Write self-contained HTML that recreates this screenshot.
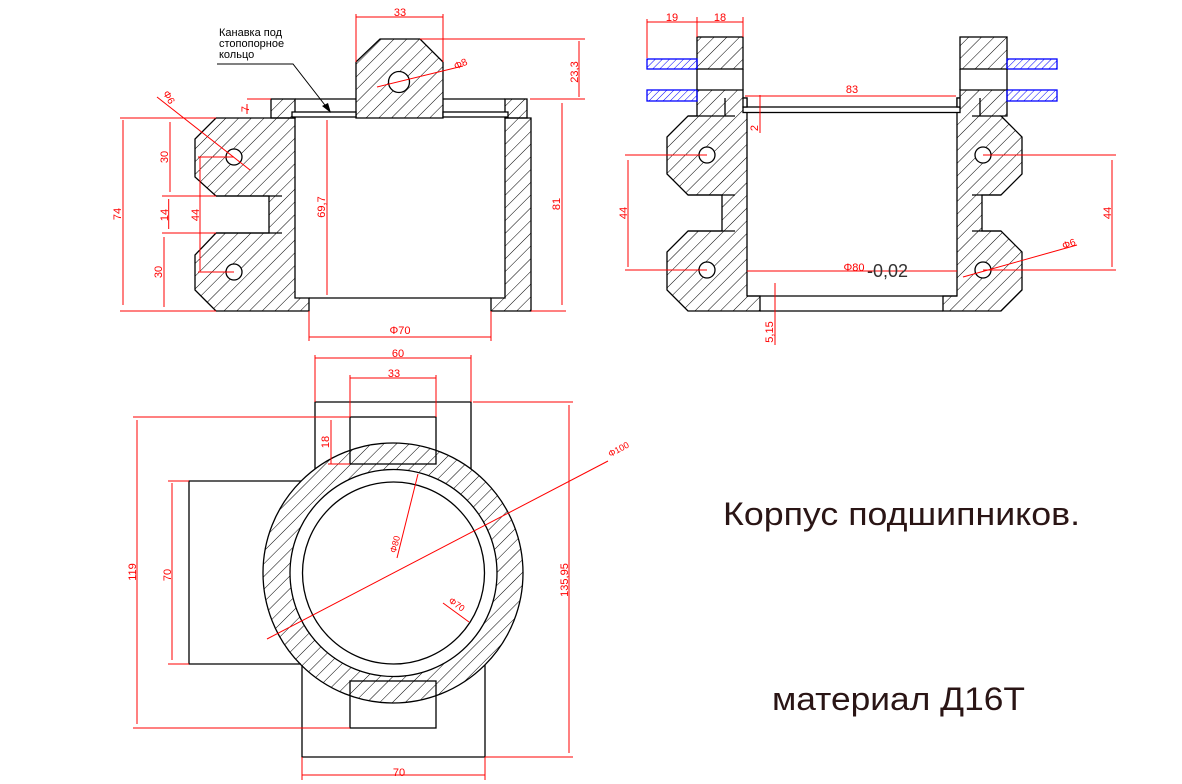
<!DOCTYPE html>
<html><head><meta charset="utf-8"><style>html,body{margin:0;padding:0;background:#fff}svg{display:block}</style></head>
<body>
<svg width="1182" height="784" viewBox="0 0 1182 784" xmlns="http://www.w3.org/2000/svg" font-family="Liberation Sans, sans-serif">
<defs>
<pattern id="h" width="9" height="9" patternUnits="userSpaceOnUse" patternTransform="rotate(-45)"><line x1="0" y1="0" x2="9" y2="0" stroke="#000" stroke-width="1"/></pattern>
<pattern id="hb" width="5" height="5" patternUnits="userSpaceOnUse" patternTransform="rotate(-45)"><line x1="0" y1="0" x2="5" y2="0" stroke="#00f" stroke-width="1"/></pattern>
</defs>
<g stroke="#000" stroke-width="1.3" fill="url(#h)">
<!-- TOP LEFT VIEW -->
<polygon points="356,62 380,39 420,39 443,62 443,118 356,118"/>
<rect x="271" y="99" width="24" height="19"/>
<rect x="505" y="99" width="22" height="19"/>
<polygon points="216,118 295,118 295,298 309,298 309,311 216,311 207,302 195,290 195,255 216,233 269,233 269,196 216,196 195,177 195,139"/>
<polygon points="505,118 531,118 531,311 491,311 491,298 505,298"/>
</g>
<g stroke="#000" stroke-width="1.3" fill="none">
<line x1="295" y1="99" x2="356" y2="99"/><line x1="443" y1="99" x2="505" y2="99"/>
<rect x="292" y="112" width="64" height="5" fill="#fff"/><rect x="443" y="112" width="65" height="5" fill="#fff"/>
<line x1="216" y1="196" x2="282" y2="196"/><line x1="216" y1="233" x2="282" y2="233"/>
<line x1="309" y1="298" x2="491" y2="298"/>
<circle cx="399" cy="82" r="10.5" fill="#fff"/>
<circle cx="234" cy="157" r="8" fill="#fff"/><circle cx="234" cy="272" r="8" fill="#fff"/>
</g>
<!-- leader -->
<g stroke="#000" stroke-width="1" fill="none"><polyline points="217,64 293,64 328,109"/></g>
<polygon points="331,113 322,106 328,103" fill="#000"/>
<g font-size="11" fill="#000"><text x="219" y="36">Канавка под</text><text x="219" y="47">стопопорное</text><text x="219" y="58">кольцо</text></g>
<!-- TOP RIGHT VIEW -->
<g stroke="#000" stroke-width="1.3" fill="url(#h)">
<rect x="697" y="37" width="46" height="32"/>
<polygon points="697,90 743,90 743,98 747,98 747,296 760,296 760,311 688,311 667,290 667,252 688,231 722,231 722,195 688,195 667,174 667,137 688,116 697,116"/>
<rect x="960" y="37" width="47" height="32"/>
<polygon points="1007,90 960,90 960,98 957,98 957,296 943,296 943,311 1001,311 1022,290 1022,252 1001,231 982,231 982,195 1001,195 1022,174 1022,137 1001,116 1007,116"/>
</g>
<g stroke="#00f" stroke-width="1.3" fill="url(#hb)">
<rect x="647" y="59" width="50" height="10"/><rect x="647" y="90" width="50" height="11"/>
<rect x="1007" y="59" width="50" height="10"/><rect x="1007" y="90" width="50" height="11"/>
</g>
<g stroke="#000" stroke-width="1.3" fill="none">
<line x1="697" y1="69" x2="697" y2="90"/><line x1="743" y1="69" x2="743" y2="90"/>
<line x1="960" y1="69" x2="960" y2="90"/><line x1="1007" y1="69" x2="1007" y2="90"/>
<line x1="725" y1="98" x2="725" y2="116"/><line x1="980" y1="98" x2="980" y2="116"/>
<line x1="688" y1="116" x2="735" y2="116"/><line x1="688" y1="195" x2="735" y2="195"/><line x1="688" y1="231" x2="735" y2="231"/>
<line x1="972" y1="116" x2="1001" y2="116"/><line x1="972" y1="195" x2="1001" y2="195"/><line x1="972" y1="231" x2="1001" y2="231"/>
<rect x="743" y="107" width="217" height="5.5" fill="#fff"/>
<rect x="743" y="98" width="4" height="9" fill="#fff"/><rect x="957" y="98" width="3" height="9" fill="#fff"/>
<line x1="747" y1="296" x2="957" y2="296"/><line x1="760" y1="311" x2="943" y2="311"/>
<circle cx="707" cy="155" r="8" fill="#fff"/><circle cx="707" cy="270" r="8" fill="#fff"/>
<circle cx="983" cy="155" r="8" fill="#fff"/><circle cx="983" cy="270" r="8" fill="#fff"/>
</g>
<!-- BOTTOM VIEW -->
<g stroke="#000" stroke-width="1.3" fill="none">
<path d="M263,573 a130,130 0 1,0 260,0 a130,130 0 1,0 -260,0 Z M290,573 a103.5,103.5 0 1,0 207,0 a103.5,103.5 0 1,0 -207,0 Z" fill="url(#h)" fill-rule="evenodd"/>
<circle cx="393.5" cy="573" r="91"/>
<polyline points="315,469 315,402 471,402 471,469"/>
<rect x="350" y="417" width="86" height="47"/>
<polyline points="301,481 189,481 189,664 301,664"/>
<polyline points="302,665 302,757 485,757 485,665"/>
<rect x="350" y="681" width="86" height="47"/>
</g>
<!-- RED DIMENSIONS -->
<g stroke="#f00" stroke-width="1" fill="none">
<line x1="356" y1="17" x2="443" y2="17"/><line x1="356" y1="14" x2="356" y2="62"/><line x1="443" y1="14" x2="443" y2="62"/>
<line x1="420" y1="39" x2="585" y2="39"/><line x1="530" y1="99" x2="585" y2="99"/><line x1="579" y1="41" x2="579" y2="97"/>
<line x1="562" y1="103" x2="562" y2="305"/><line x1="531" y1="311" x2="566" y2="311"/>
<line x1="123" y1="120" x2="123" y2="305"/><line x1="120" y1="118" x2="216" y2="118"/><line x1="120" y1="311" x2="216" y2="311"/>
<line x1="170" y1="122" x2="170" y2="192"/><line x1="168.7" y1="199" x2="168.7" y2="229"/><line x1="164" y1="237" x2="164" y2="307"/>
<line x1="162" y1="196" x2="216" y2="196"/><line x1="162" y1="233" x2="216" y2="233"/>
<line x1="200" y1="157" x2="200" y2="272"/><line x1="198" y1="157" x2="234" y2="157"/><line x1="198" y1="272" x2="234" y2="272"/>
<line x1="247" y1="99" x2="271" y2="99"/><line x1="247" y1="104" x2="247" y2="114"/>
<line x1="327" y1="120" x2="327" y2="295"/>
<line x1="309" y1="337" x2="491" y2="337"/><line x1="309" y1="311" x2="309" y2="341"/><line x1="491" y1="311" x2="491" y2="341"/>
<line x1="377" y1="87" x2="463" y2="66"/>
<line x1="157" y1="97" x2="250" y2="170"/>
<!-- right view -->
<line x1="647" y1="22" x2="743" y2="22"/><line x1="647" y1="19" x2="647" y2="58"/><line x1="697" y1="17" x2="697" y2="37"/><line x1="743" y1="17" x2="743" y2="37"/>
<line x1="745" y1="96" x2="956" y2="96"/>
<line x1="760" y1="95" x2="760" y2="133"/>
<line x1="628" y1="160" x2="628" y2="267"/><line x1="625" y1="155" x2="707" y2="155"/><line x1="625" y1="270" x2="707" y2="270"/>
<line x1="1112" y1="160" x2="1112" y2="267"/><line x1="983" y1="155" x2="1116" y2="155"/><line x1="983" y1="270" x2="1116" y2="270"/>
<line x1="747" y1="271" x2="957" y2="271"/>
<line x1="963" y1="277" x2="1077" y2="245"/>
<line x1="775" y1="283" x2="775" y2="345"/>
<!-- bottom view -->
<line x1="315" y1="358" x2="471" y2="358"/><line x1="315" y1="355" x2="315" y2="402"/><line x1="471" y1="355" x2="471" y2="402"/>
<line x1="350" y1="378" x2="436" y2="378"/><line x1="350" y1="375" x2="350" y2="417"/><line x1="436" y1="375" x2="436" y2="417"/>
<line x1="331" y1="420" x2="331" y2="464"/><line x1="328" y1="464" x2="350" y2="464"/>
<line x1="137" y1="420" x2="137" y2="724"/><line x1="133" y1="417" x2="350" y2="417"/><line x1="133" y1="728" x2="350" y2="728"/>
<line x1="172" y1="483" x2="172" y2="660"/><line x1="168" y1="481" x2="189" y2="481"/><line x1="168" y1="664" x2="189" y2="664"/>
<line x1="569" y1="405" x2="569" y2="753"/><line x1="473" y1="402" x2="573" y2="402"/><line x1="485" y1="757" x2="573" y2="757"/>
<line x1="302" y1="775" x2="485" y2="775"/><line x1="302" y1="757" x2="302" y2="780"/><line x1="485" y1="757" x2="485" y2="780"/>
<line x1="267" y1="639" x2="608" y2="461"/>
<line x1="397" y1="558" x2="418" y2="474"/>
<line x1="443" y1="603" x2="469" y2="622"/>
</g>
<g fill="#f00" font-size="11" text-anchor="middle">
<text x="400" y="16">33</text>
<text x="578" y="72" transform="rotate(-90 578 72)">23,3</text>
<text x="560" y="204" transform="rotate(-90 560 204)">81</text>
<text x="121" y="214" transform="rotate(-90 121 214)">74</text>
<text x="168" y="157" transform="rotate(-90 168 157)">30</text>
<text x="168" y="215" transform="rotate(-90 168 215)">14</text>
<text x="199" y="215" transform="rotate(-90 199 215)">44</text>
<text x="162" y="272" transform="rotate(-90 162 272)">30</text>
<text x="249" y="109" transform="rotate(-90 249 109)">7</text>
<text x="325" y="207" transform="rotate(-90 325 207)">69,7</text>
<text x="400" y="334">Φ70</text>
<text x="462" y="67" font-size="10" transform="rotate(-25 462 67)">Φ8</text>
<text x="166" y="99" font-size="10" transform="rotate(60 166 99)">Φ6</text>
<text x="672" y="21">19</text><text x="720" y="21">18</text>
<text x="852" y="93">83</text>
<text x="758" y="128" transform="rotate(-90 758 128)">2</text>
<text x="627" y="213" transform="rotate(-90 627 213)">44</text>
<text x="1111" y="213" transform="rotate(-90 1111 213)">44</text>
<text x="854" y="271">Φ80</text>
<text x="1070" y="247" font-size="10" transform="rotate(-20 1070 247)">Φ6</text>
<text x="773" y="332" transform="rotate(-90 773 332)">5,15</text>
<text x="398" y="357">60</text>
<text x="394" y="377">33</text>
<text x="329" y="442" transform="rotate(-90 329 442)">18</text>
<text x="136" y="572" transform="rotate(-90 136 572)">119</text>
<text x="171" y="575" transform="rotate(-90 171 575)">70</text>
<text x="568" y="580" transform="rotate(-90 568 580)">135,95</text>
<text x="399" y="776">70</text>
<text x="620" y="452" font-size="9" transform="rotate(-28 620 452)">Φ100</text>
<text x="398" y="545" font-size="9" transform="rotate(-75 398 545)">Φ80</text>
<text x="455" y="607" font-size="9" transform="rotate(35 455 607)">Φ70</text>
</g>
<text x="867" y="277" font-size="18" fill="#333">-0,02</text>
<text x="723" y="525" font-size="32" fill="#2a1515" textLength="357" lengthAdjust="spacingAndGlyphs">Корпус подшипников.</text>
<text x="772" y="710" font-size="32" fill="#2a1515" textLength="253" lengthAdjust="spacingAndGlyphs">материал Д16Т</text>
</svg>
</body></html>
